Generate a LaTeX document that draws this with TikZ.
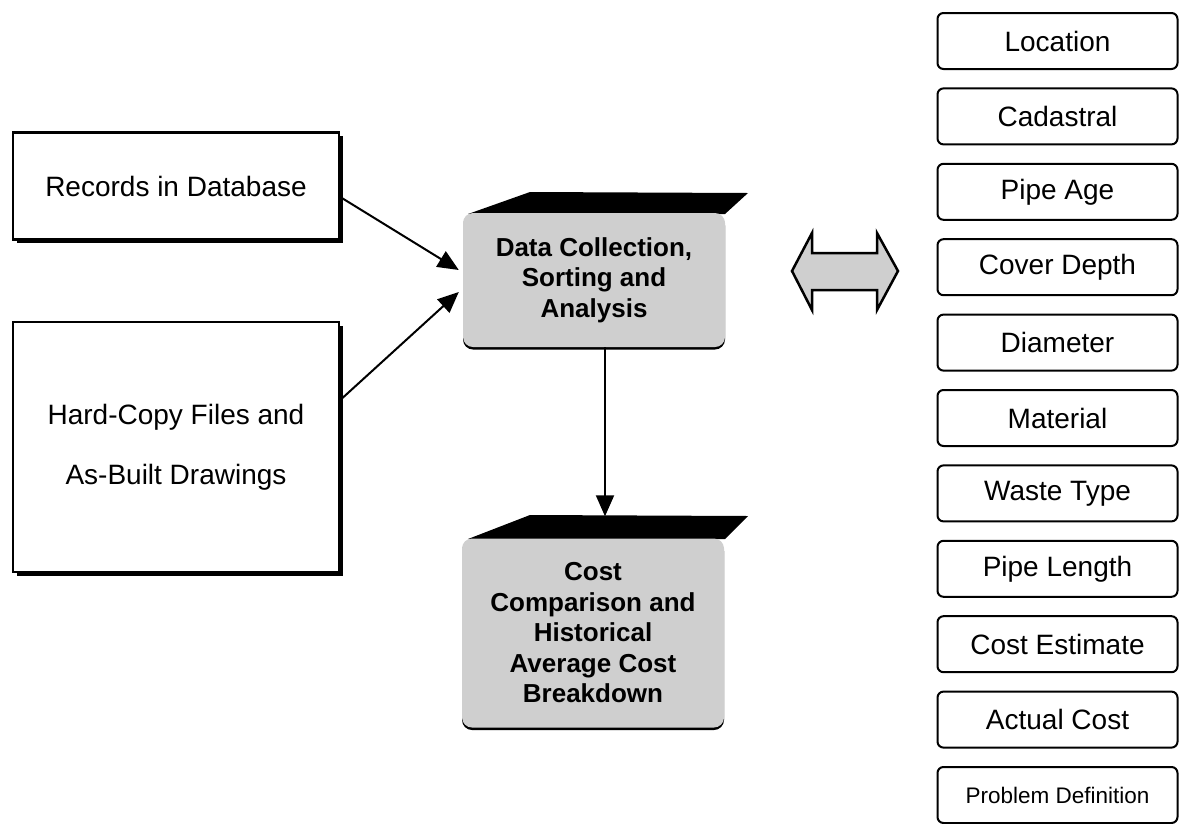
\documentclass[tikz,border=0pt]{standalone}
\usepackage{fontspec}
\setmainfont{Liberation Sans}
\usetikzlibrary{arrows.meta,shadows}
\begin{document}
\begin{tikzpicture}[x=1pt,y=-1pt,
  leftbox/.style={draw, line width=2.5pt, fill=white, minimum width=326pt, align=center, inner sep=0pt,
    font=\fontsize{28}{60}\selectfont,
    drop shadow={shadow xshift=3.5pt, shadow yshift=-3.5pt, fill=black, opacity=1}},
  facebox/.style={fill=gray!38, rounded corners=10pt, minimum width=262pt, align=center, inner sep=0pt,
    font=\fontsize{26}{30.5}\selectfont\bfseries,
    drop shadow={shadow xshift=0pt, shadow yshift=-2.5pt, fill=black, opacity=1}},
  topface/.style={fill=black},
  itembox/.style={draw, line width=2pt, rounded corners=6pt, minimum width=240pt, minimum height=56pt, inner sep=0pt,
    font=\fontsize{28}{33}\selectfont},
  arr/.style={line width=2pt, -{Triangle[length=21pt,width=18pt]}},
  dblarrow/.style={draw, line width=2.5pt, fill=gray!38, line join=miter}
]
\useasboundingbox (0,0) rectangle (1179,823);

% left boxes
\node[leftbox, minimum height=107pt] (rec) at (176,186) {Records in Database};
\node[leftbox, minimum height=250pt] (hc) at (176,447) {Hard-Copy Files and\\As-Built Drawings};

% centre boxes
\fill[topface] (468,214) -- (530,192) -- (748,193) -- (725,214) -- cycle;
\node[facebox, minimum height=134pt] (dc) at (594,280) {Data Collection,\\Sorting and\\Analysis};
\fill[topface] (468,539) -- (530,515) -- (748,516) -- (725,539) -- cycle;
\node[facebox, minimum height=189pt] (cc) at (593,633) {Cost\\Comparison and\\Historical\\Average Cost\\Breakdown};

% arrows
\draw[arr] ([yshift=-11pt]rec.east) -- ([xshift=-4pt,yshift=10pt]dc.west);
\draw[arr] ([yshift=47pt]hc.east) -- ([xshift=-4pt,yshift=-12pt]dc.west);
\draw[arr] ([xshift=11pt]dc.south) -- ([xshift=12pt,yshift=22pt]cc.north);

% double arrow
\coordinate (da) at (845,271);
\draw[dblarrow] (792,271) -- (812,233) -- (812,253) -- (877,253) -- (877,233) -- (898,271)
  -- (877,310) -- (877,290) -- (812,290) -- (812,310) -- cycle;

% right column
\foreach \t [count=\i from 0] in {Location,Cadastral,Pipe Age,Cover Depth,Diameter,Material,Waste Type,Pipe Length,Cost Estimate,Actual Cost}{
  \node[itembox] (r\i) at (1057.5,{41+75.4*\i}) {\t};
}
\node[itembox, font=\fontsize{22.5}{27}\selectfont] (r10) at (1057.5,795) {Problem Definition};
\end{tikzpicture}
\end{document}
